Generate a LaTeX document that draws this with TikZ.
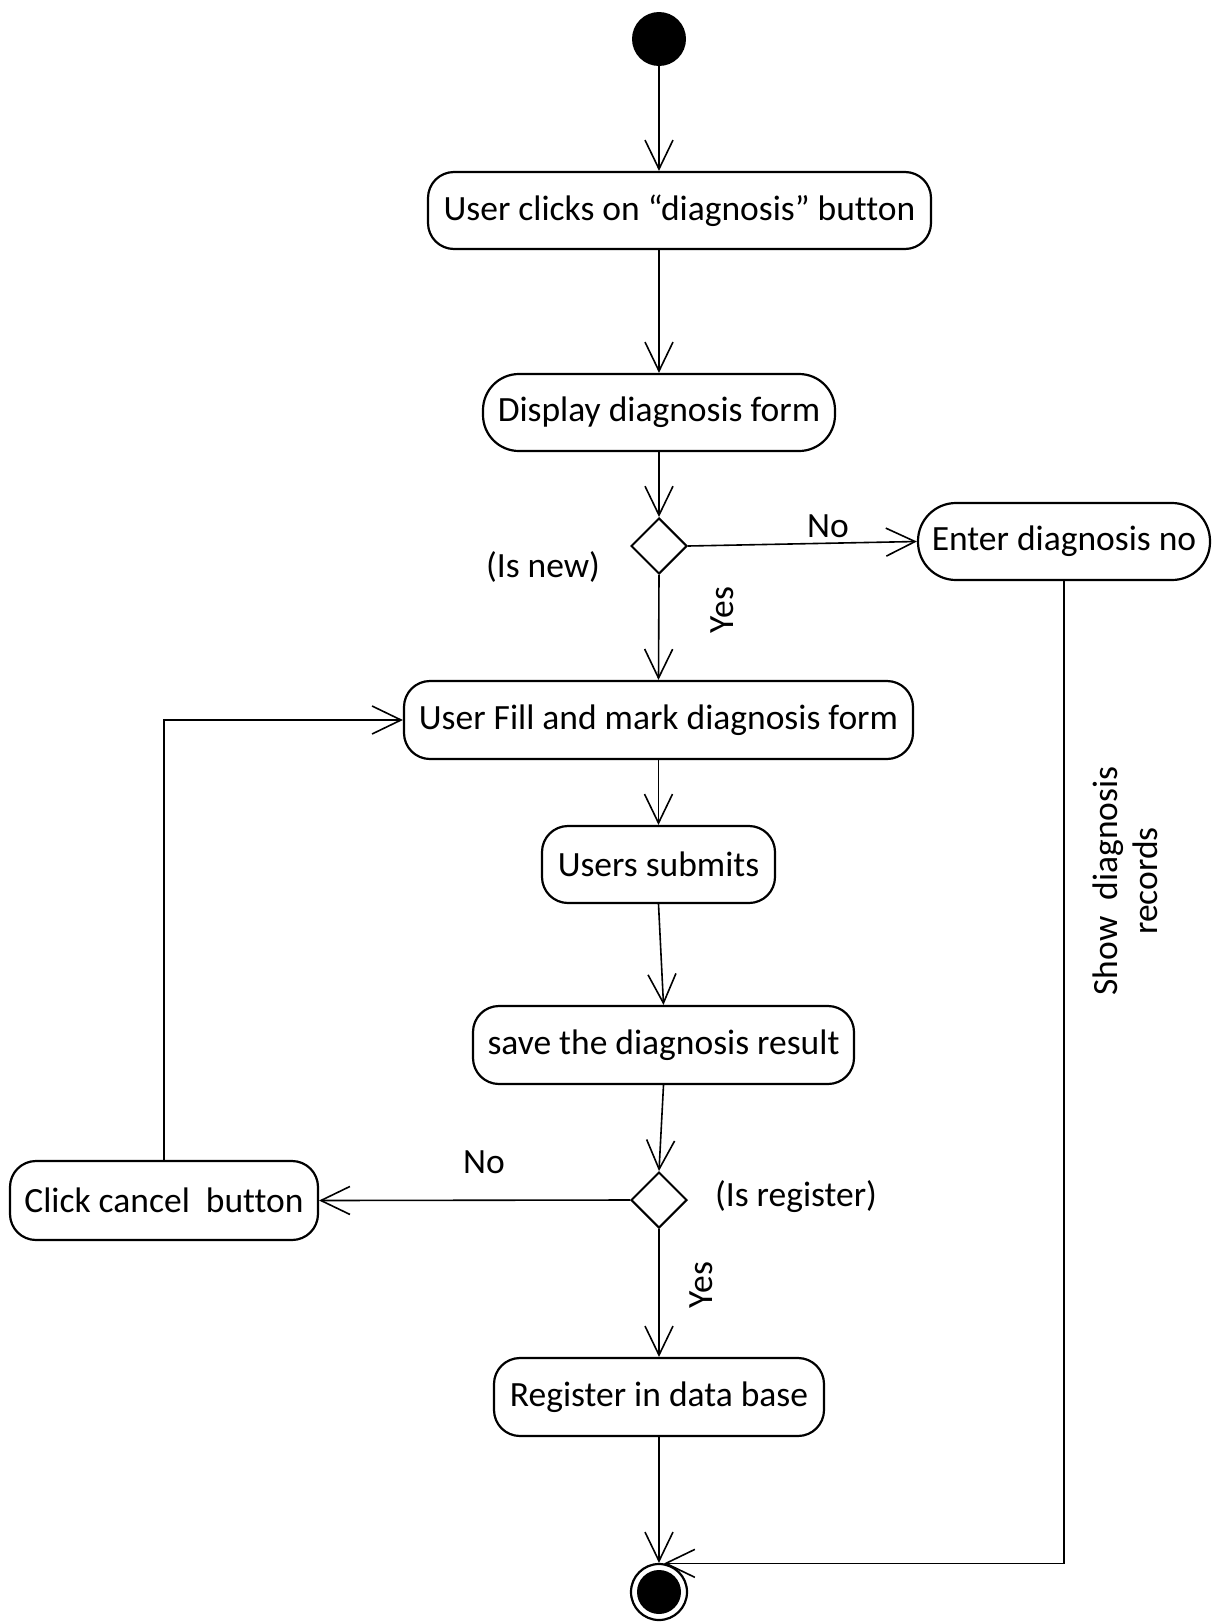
\documentclass[tikz,border=0pt]{standalone}
\usepackage{fontspec}
\setmainfont{Carlito}[Ligatures=NoCommon]
\usetikzlibrary{arrows.meta,shapes.geometric}
\begin{document}
\begin{tikzpicture}[x=1pt,y=-1pt,
  every node/.style={font=\fontsize{35.5}{40}\selectfont},
  act/.style={draw, line width=2.2pt, rounded corners=26pt, inner sep=0pt},
  decision/.style={draw, diamond, line width=2pt, minimum width=56pt, minimum height=56pt, inner sep=0pt},
  flow/.style={line width=1.6pt, -{Straight Barb[length=29pt,width=28pt,line width=1.6pt]}},
  lbl/.style={inner sep=0pt}]
\useasboundingbox (0,0) rectangle (1215,1622);

% initial and final states
\node[circle, fill, minimum size=54pt, inner sep=0pt] (start) at (659,39) {};
\node[circle, draw, line width=2.2pt, minimum size=56pt, inner sep=0pt] (end) at (659,1592) {};
\node[circle, fill, minimum size=44pt, inner sep=0pt] (endcore) at (659,1592) {};

% activities
\node[act, minimum width=503pt, minimum height=77pt] (b1) at (679.5,210.5) {User clicks on “diagnosis” button};
\node[act, rounded corners=36pt, minimum width=352pt, minimum height=77pt] (b2) at (659,412.5) {Display diagnosis form};
\node[act, rounded corners=38pt, minimum width=292pt, minimum height=77pt] (enter) at (1064,541.5) {Enter diagnosis no};
\node[act, minimum width=509pt, minimum height=78pt] (b3) at (658.5,720) {User Fill and mark diagnosis form};
\node[act, minimum width=233pt, minimum height=77pt] (b4) at (658.5,864.5) {Users submits};
\node[act, minimum width=381pt, minimum height=78pt] (b5) at (663.5,1045) {save the diagnosis result};
\node[act, minimum width=308pt, minimum height=79pt] (cancel) at (164,1200.5) {Click cancel\ \ button};
\node[act, minimum width=330pt, minimum height=78pt] (b6) at (659,1397) {Register in data base};

% decisions
\node[decision] (d1) at (659,546) {};
\node[decision] (d2) at (659,1200) {};

% transitions
\draw[flow] (start) -- (start |- b1.north);
\draw[flow] (b2.north |- b1.south) -- (b2.north);
\draw[flow] (b2.south) -- (d1.north);
\draw[flow] (d1.east) -- (enter.west);
\draw[flow] (d1.south) -- (b3.north);
\draw[flow] (b3.south) -- (b4.north);
\draw[flow] (b4.south) -- (b5.north);
\draw[flow] (b5.south) -- (d2.north);
\draw[flow] (d2.west) -- (cancel.east);
\draw[flow] (cancel.north) |- (b3.west);
\draw[flow] (d2.south) -- (b6.north);
\draw[flow] (b6.south) -- (end.north);
\draw[flow] (enter.south) |- (end.80);

% guards and labels
\node[lbl] (no1) at (828,526) {No};
\node[lbl] (isnew) at (543,567) {(Is new)};
\node[lbl, rotate=90] (yes1) at (722,610) {Yes};
\node[lbl] (no2) at (484,1162) {No};
\node[lbl] (isreg) at (796,1197) {(Is register)};
\node[lbl, rotate=90] (yes2) at (701,1285) {Yes};
\node[lbl, rotate=90, align=center] (show) at (1125,881) {Show\ \ diagnosis\\records};
\end{tikzpicture}
\end{document}
